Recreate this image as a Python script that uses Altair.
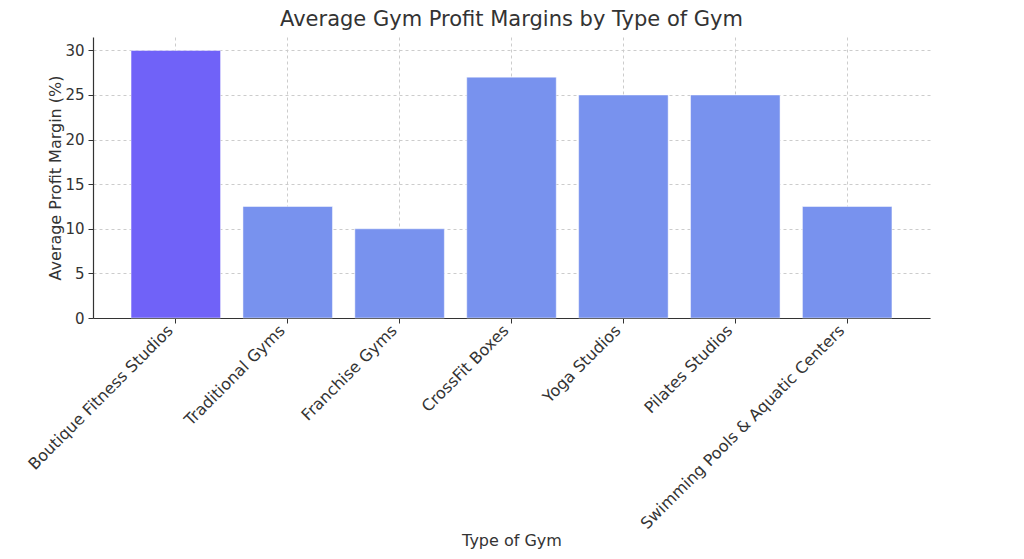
import altair as alt
import pandas as pd

categories = ["Boutique Fitness Studios", "Traditional Gyms", "Franchise Gyms",
              "CrossFit Boxes", "Yoga Studios", "Pilates Studios",
              "Swimming Pools & Aquatic Centers"]
margins = [30, 12.5, 10, 27, 25, 25, 12.5]
highlight = ["yes", "no", "no", "no", "no", "no", "no"]

df = pd.DataFrame({"Type": categories, "Margin": margins, "Highlight": highlight})

FONT = "DejaVu Sans"
TXT = "#333333"

chart = alt.Chart(df).mark_bar(stroke="white", strokeWidth=0.8, strokeOpacity=0.6).encode(
    x=alt.X("Type:N", sort=categories,
            scale=alt.Scale(paddingInner=0.2, paddingOuter=0.34),
            axis=alt.Axis(title="Type of Gym", labelAngle=-45, labelAlign="right",
                          labelBaseline="top", labelPadding=-1, labelOffset=-11,
                          labelLimit=400, labelFontSize=16,
                          titleY=222, titleBaseline="middle",
                          tickSize=5, tickColor="#333333", domainColor="#333333",
                          domainWidth=1.2,
                          grid=True, gridDash=[3, 3], gridColor="#cccccc")),
    y=alt.Y("Margin:Q", scale=alt.Scale(domain=[0, 31.5], nice=False),
            axis=alt.Axis(title="Average Profit Margin (%)", values=[0, 5, 10, 15, 20, 25, 30],
                          tickSize=5, tickColor="#333333", domainColor="#333333",
                          domainWidth=1.2, labelPadding=4, titleX=-38, titleBaseline="middle",
                          grid=True, gridDash=[3, 3], gridColor="#cccccc")),
    color=alt.Color("Highlight:N", scale=alt.Scale(domain=["yes", "no"],
                                                   range=["#7062F8", "#7892EE"]),
                    legend=None),
).properties(
    width=837, height=281,
    title=alt.TitleParams("Average Gym Profit Margins by Type of Gym", fontSize=21,
                          font=FONT, color=TXT, fontWeight="normal", offset=7),
    autosize=alt.AutoSizeParams(type="none"),
    padding={"left": 85, "top": 29, "right": 80, "bottom": 235},
).configure_view(stroke=None).configure_axis(
    labelFont=FONT, titleFont=FONT, labelFontSize=15, titleFontSize=16,
    labelColor=TXT, titleColor=TXT, titleFontWeight="normal",
)

chart.save("out.html", embed_options={"renderer": "svg", "actions": False})
